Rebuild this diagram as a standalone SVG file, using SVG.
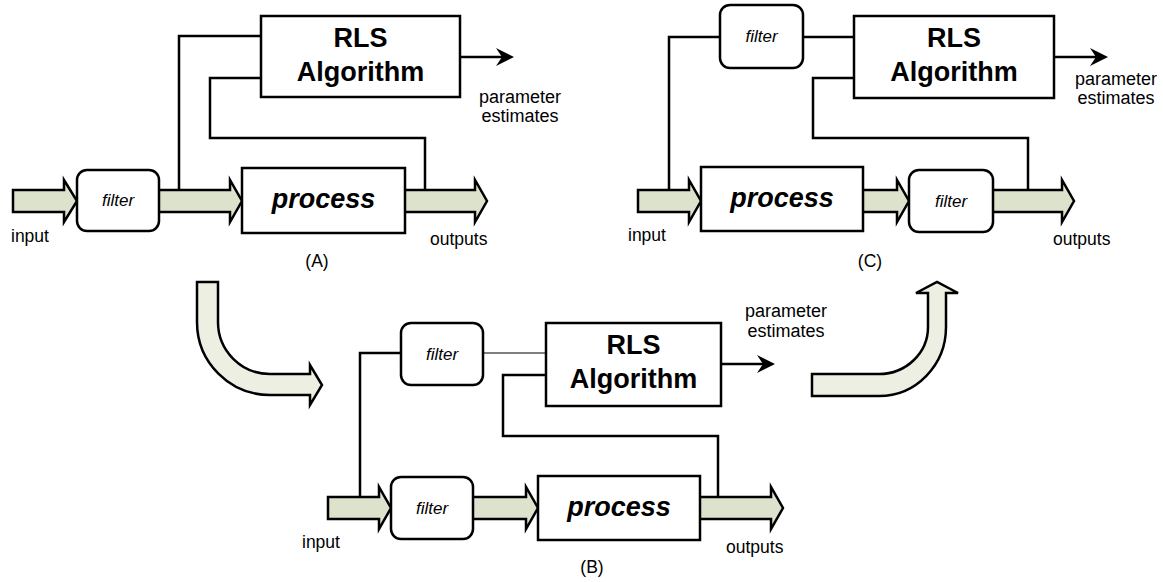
<svg xmlns="http://www.w3.org/2000/svg" width="1163" height="582" viewBox="0 0 1163 582">
<style>
.box{fill:#fff;stroke:#000;stroke-width:2.5}
.ln{fill:none;stroke:#000;stroke-width:2.5}
.thin{fill:none;stroke:#000;stroke-width:1.2}
.big{fill:#dde2cd;stroke:#000;stroke-width:2.5;stroke-linejoin:miter}
.curve{fill:#eeefe3;stroke:#000;stroke-width:2.5}
.t{font-family:"Liberation Sans",Arial,sans-serif;fill:#000}
.rls{font-size:27px;font-weight:bold;text-anchor:middle}
.proc{font-size:27px;font-weight:bold;font-style:italic;text-anchor:middle}
.flt{font-size:17px;font-style:italic;text-anchor:middle}
.lbl{font-size:17.5px}
.mid{text-anchor:middle}
.pe{font-size:18px;text-anchor:middle}
</style>
<defs>
<marker id="dart" viewBox="0 0 18 18" refX="10" refY="9" markerWidth="18" markerHeight="18" markerUnits="userSpaceOnUse" orient="auto">
<path d="M0,0 L18,9 L0,18 L6,9 Z" fill="#000"/>
</marker>
</defs>

<g id="connectors">
<!-- Panel A -->
<polyline class="ln" points="261,36 179,36 179,191"/>
<polyline class="ln" points="261,78 210,78 210,138 425,138 425,191"/>
<line class="ln" x1="460" y1="57" x2="506" y2="57" marker-end="url(#dart)"/>
<path class="big" d="M13,190 L64,190 L64,180 L77,201 L64,222 L64,212 L13,212 Z"/>
<path class="big" d="M157,190 L230,190 L230,180 L242,201 L230,222 L230,212 L157,212 Z"/>
<path class="big" d="M403,190 L475,190 L475,180 L487,201 L475,222 L475,212 L403,212 Z"/>
<!-- Panel B -->
<polyline class="ln" points="401,353 360,353 360,498"/>
<line class="thin" x1="483" y1="353" x2="546" y2="353"/>
<polyline class="ln" points="546,375 503,375 503,436 718,436 718,498"/>
<line class="ln" x1="721" y1="364" x2="767" y2="364" marker-end="url(#dart)"/>
<path class="big" d="M328,497 L379,497 L379,487 L391,508 L379,529 L379,519 L328,519 Z"/>
<path class="big" d="M471,497 L526,497 L526,487 L538,508 L526,529 L526,519 L471,519 Z"/>
<path class="big" d="M698,497 L771,497 L771,487 L783,508 L771,529 L771,519 L698,519 Z"/>
<!-- Panel C -->
<polyline class="ln" points="720,37 669,37 669,191"/>
<line class="ln" x1="803" y1="37" x2="854" y2="37"/>
<polyline class="ln" points="854,78 813,78 813,138 1028,138 1028,191"/>
<line class="ln" x1="1054" y1="57" x2="1100" y2="57" marker-end="url(#dart)"/>
<path class="big" d="M638,190 L689,190 L689,180 L701,201 L689,222 L689,212 L638,212 Z"/>
<path class="big" d="M861,190 L897,190 L897,180 L909,201 L897,222 L897,212 L861,212 Z"/>
<path class="big" d="M991,190 L1062,190 L1062,180 L1074,201 L1062,222 L1062,212 L991,212 Z"/>
<!-- transition arrows -->
<path class="curve" d="M197,282 L218,282 L218,322 A52,52 0 0 0 270,374 L310,374 L310,365 L322,385 L310,405 L310,395 L270,395 A73,73 0 0 1 197,322 Z"/>
<path class="curve" d="M812,374 L879,374 A49,47 0 0 0 928,327 L928,293 L916,293 L937,282 L958,293 L946,293 L946,327 A67,69 0 0 1 879,396 L812,396 Z"/>
</g>

<!-- Panel A nodes -->
<g id="a-filter">
<rect class="box" x="77" y="170" width="82" height="61" rx="10"/>
<text class="t flt" x="118" y="206">filter</text>
</g>
<g id="a-rls">
<rect class="box" x="261" y="16" width="199" height="81"/>
<text class="t rls" x="360.5" y="47">RLS</text>
<text class="t rls" x="360.5" y="81">Algorithm</text>
</g>
<g id="a-process">
<rect class="box" x="242" y="168" width="163" height="65"/>
<text class="t proc" x="323.5" y="208">process</text>
</g>
<g id="a-labels">
<text class="t lbl" x="11" y="242">input</text>
<text class="t lbl" x="430" y="245">outputs</text>
<text class="t lbl mid" x="317" y="267">(A)</text>
<text class="t pe" x="520" y="103">parameter</text>
<text class="t pe" x="520" y="122">estimates</text>
</g>

<!-- Panel B nodes -->
<g id="b-filter-top">
<rect class="box" x="401" y="323" width="82" height="62" rx="10"/>
<text class="t flt" x="442" y="359.5">filter</text>
</g>
<g id="b-rls">
<rect class="box" x="546" y="323" width="175" height="83"/>
<text class="t rls" x="633.5" y="354">RLS</text>
<text class="t rls" x="633.5" y="388">Algorithm</text>
</g>
<g id="b-filter-bottom">
<rect class="box" x="391" y="477" width="82" height="62" rx="10"/>
<text class="t flt" x="432" y="514">filter</text>
</g>
<g id="b-process">
<rect class="box" x="538" y="476" width="162" height="64"/>
<text class="t proc" x="619" y="516">process</text>
</g>
<g id="b-labels">
<text class="t lbl" x="302" y="548">input</text>
<text class="t lbl" x="726" y="553">outputs</text>
<text class="t lbl mid" x="592" y="573">(B)</text>
<text class="t pe" x="786" y="317">parameter</text>
<text class="t pe" x="786" y="337">estimates</text>
</g>

<!-- Panel C nodes -->
<g id="c-filter-top">
<rect class="box" x="720" y="5" width="83" height="63" rx="10"/>
<text class="t flt" x="761.5" y="42">filter</text>
</g>
<g id="c-rls">
<rect class="box" x="854" y="16" width="200" height="82"/>
<text class="t rls" x="954" y="47">RLS</text>
<text class="t rls" x="954" y="81">Algorithm</text>
</g>
<g id="c-process">
<rect class="box" x="701" y="167" width="162" height="64"/>
<text class="t proc" x="782" y="207">process</text>
</g>
<g id="c-filter-bottom">
<rect class="box" x="909" y="170" width="84" height="62" rx="10"/>
<text class="t flt" x="951" y="206.5">filter</text>
</g>
<g id="c-labels">
<text class="t lbl" x="628" y="241">input</text>
<text class="t lbl" x="1053" y="245">outputs</text>
<text class="t lbl mid" x="870" y="267">(C)</text>
<text class="t pe" x="1116" y="85">parameter</text>
<text class="t pe" x="1116" y="104">estimates</text>
</g>
</svg>
